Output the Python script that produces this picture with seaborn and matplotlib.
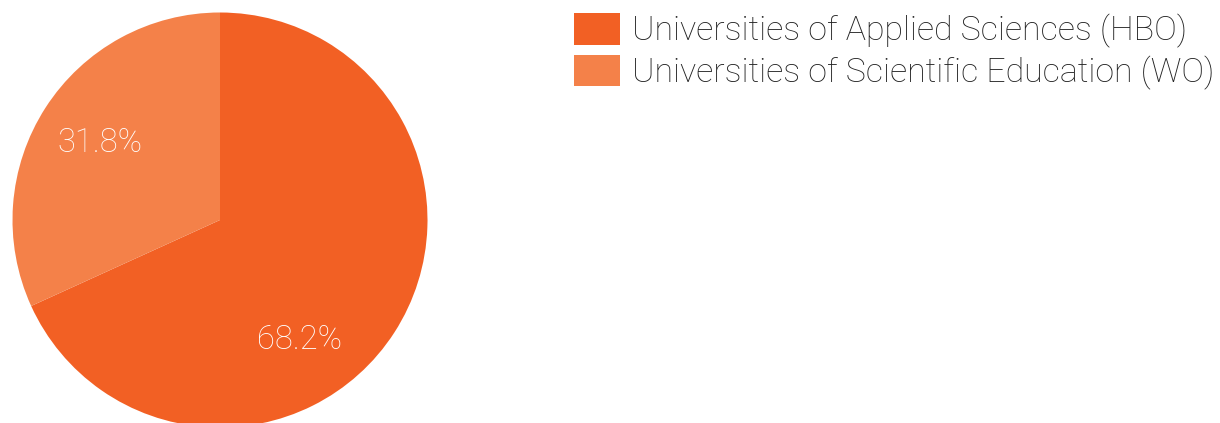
import numpy as np
import matplotlib
matplotlib.use("Agg")
import matplotlib.pyplot as plt
import seaborn as sns
from matplotlib.patches import Patch

categories = ["Universities of Applied Sciences (HBO)", "Universities of Scientific Education (WO)"]
shares = [68.2, 31.8]
colors = ["#F26024", "#F48149"]

sns.set_theme(style="white")
plt.rcParams['font.family'] = ['Roboto', 'DejaVu Sans']

W, H = 1220, 423
fig = plt.figure(figsize=(W / 100, H / 100), dpi=100)
fig.patch.set_facecolor("white")

cx, cy, r = 220, 220, 207.5
ax = fig.add_axes([(cx - r) / W, (H - cy - r) / H, 2 * r / W, 2 * r / H])
wedges, texts, autotexts = ax.pie(
    shares, colors=colors, startangle=90, counterclock=False,
    autopct=lambda p: f"{p:.1f}%", pctdistance=0.69, radius=1,
    wedgeprops=dict(linewidth=0),
    textprops=dict(color="white", fontsize=23.5, fontweight="light"))
ax.set_xlim(-1, 1)
ax.set_ylim(-1, 1)
ax.set_aspect("equal")
ax.axis("off")

# label of the big slice sits lower than the mid-angle
ang = np.deg2rad(-56.5)
autotexts[0].set_position((0.695 * np.cos(ang), 0.695 * np.sin(ang)))

handles = [Patch(facecolor=c, edgecolor="none") for c in colors]
leg = fig.legend(handles, categories, loc="upper left",
                 bbox_to_anchor=(574 / W, 1 - 13 / H),
                 frameon=False, fontsize=24.4,
                 handlelength=1.36, handleheight=1.07, handletextpad=0.35,
                 labelspacing=0.19, borderpad=0, borderaxespad=0)
for t in leg.get_texts():
    t.set_color("#222222")
    t.set_fontweight("light")

fig.savefig("out.png", dpi=100, facecolor="white")
